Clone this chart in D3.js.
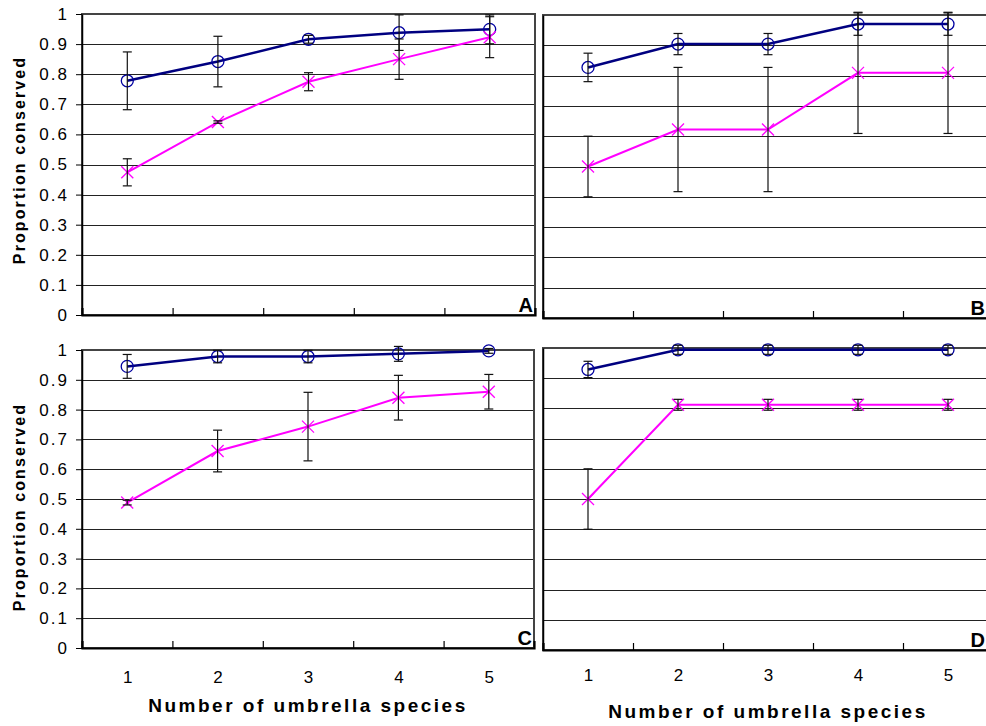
<!DOCTYPE html>
<html>
<head>
  <meta charset="utf-8">
  <script src="https://d3js.org/d3.v7.min.js"></script>
  <style>
    body { margin: 0; background: #fff; }
    svg { display: block; font-family: "Liberation Sans", Arial, sans-serif; }
    .grid line { stroke: #222; stroke-width: 1px; shape-rendering: crispEdges; }
    .frame { fill: none; stroke: #444; stroke-width: 1.5px; shape-rendering: crispEdges; }
    .ylab text { font-size: 17px; letter-spacing: 2px; fill: #000; }
    .xlab text { font-size: 17px; fill: #000; }
    .title { font-size: 19px; font-weight: bold; letter-spacing: 2.5px; }
    .ytitle { font-size: 16px; font-weight: bold; letter-spacing: 2.1px; }
    .panel-letter { font-size: 20px; font-weight: bold; }
    .line-circle { fill: none; stroke: #000080; stroke-width: 2.5px; }
    .line-cross { fill: none; stroke: #ff00ff; stroke-width: 2px; }
    .errbar { stroke: #111; stroke-width: 1.2px; }
  </style>
</head>
<body>
<div id="chart"></div>
<script>
  // x categories and y ticks
  var species = [1, 2, 3, 4, 5];
  var yTicks = [0, 0.1, 0.2, 0.3, 0.4, 0.5, 0.6, 0.7, 0.8, 0.9, 1];
  var panelNames = ["A", "B", "C", "D"];

  // navy circles (mean, +/- error) and magenta crosses, one pair per panel
  var circleA = [0.778, 0.842, 0.916, 0.938, 0.949];
  var circleErrA = [0.096, 0.084, 0.013, 0.059, 0.048];
  var crossA = [0.474, 0.641, 0.775, 0.850, 0.923];
  var crossErrA = [0.045, 0.004, 0.030, 0.067, 0.068];

  var circleB = [0.827, 0.904, 0.904, 0.970, 0.970];
  var circleErrB = [0.047, 0.035, 0.035, 0.037, 0.037];
  var crossB = [0.500, 0.622, 0.622, 0.809, 0.809];
  var crossErrB = [0.100, 0.205, 0.205, 0.200, 0.200];

  var circleC = [0.945, 0.978, 0.978, 0.987, 0.997];
  var circleErrC = [0.040, 0.021, 0.021, 0.025, 0.008];
  var crossC = [0.488, 0.661, 0.743, 0.840, 0.860];
  var crossErrC = [0.008, 0.070, 0.115, 0.075, 0.058];

  var circleD = [0.929, 0.994, 0.994, 0.994, 0.994];
  var circleErrD = [0.027, 0.015, 0.015, 0.015, 0.015];
  var crossD = [0.500, 0.812, 0.812, 0.812, 0.812];
  var crossErrD = [0.100, 0.018, 0.018, 0.018, 0.018];

  var panelData = {
    A: { circle: circleA, circleErr: circleErrA, cross: crossA, crossErr: crossErrA },
    B: { circle: circleB, circleErr: circleErrB, cross: crossB, crossErr: crossErrB },
    C: { circle: circleC, circleErr: circleErrC, cross: crossC, crossErr: crossErrC },
    D: { circle: circleD, circleErr: circleErrD, cross: crossD, crossErr: crossErrD }
  };

  // plot boxes (pixels); right column runs past the page edge like the original
  var boxes = {
    A: { left: 82, right: 535, top: 14, bottom: 315, yLabels: true, xLabels: false, letterX: 533 },
    B: { left: 543, right: 993, top: 15, bottom: 318, yLabels: false, xLabels: false, letterX: 985 },
    C: { left: 82, right: 534, top: 350, bottom: 648, yLabels: true, xLabels: true, pad: 23, letterX: 532 },
    D: { left: 543, right: 993, top: 348, bottom: 650, yLabels: false, xLabels: true, pad: 19, letterX: 985 }
  };

  var svg = d3.select("#chart").append("svg")
      .attr("width", 986)
      .attr("height", 726);

  function drawPanel(name) {
    var b = boxes[name], d = panelData[name];
    var x = d3.scaleLinear().domain([0.5, 5.5]).range([b.left, b.right]);
    var y = d3.scaleLinear().domain([0, 1]).range([b.bottom, b.top]);
    var g = svg.append("g").attr("class", "panel-" + name);

    // horizontal gridlines
    g.append("g").attr("class", "grid")
      .selectAll("line").data(yTicks.slice(1)).join("line")
        .attr("x1", b.left).attr("x2", b.right)
        .attr("y1", function(v) { return Math.round(y(v)) + 0.5; })
        .attr("y2", function(v) { return Math.round(y(v)) + 0.5; });

    g.append("rect").attr("class", "frame")
      .attr("x", b.left).attr("y", b.top)
      .attr("width", b.right - b.left).attr("height", b.bottom - b.top);

    // left axis
    var yAxis = d3.axisLeft(y).tickValues(yTicks)
        .tickFormat(function(v) { return v === 0 || v === 1 ? String(v) : v.toFixed(1); })
        .tickSizeInner(b.yLabels ? 6 : 0).tickSizeOuter(0).tickPadding(7);
    var ya = g.append("g").attr("class", "ylab")
        .attr("transform", "translate(" + b.left + ",0)")
        .call(yAxis);
    ya.select(".domain").attr("stroke", "#000").attr("stroke-width", 1.5);
    if (!b.yLabels) ya.selectAll("text").remove();
    ya.selectAll(".tick line").attr("stroke", "#000");

    // bottom axis: ticks between categories, pointing inward
    var xa = g.append("g")
        .attr("transform", "translate(0," + b.bottom + ")")
        .call(d3.axisBottom(x).tickValues([1.5, 2.5, 3.5, 4.5])
          .tickSize(-7).tickFormat(""));
    xa.select(".domain").attr("stroke", "#000").attr("stroke-width", 2.2);
    xa.selectAll(".tick line").attr("stroke", "#000").attr("stroke-width", 1.2);

    if (b.xLabels) {
      g.append("g").attr("class", "xlab")
        .attr("transform", "translate(0," + b.bottom + ")")
        .call(d3.axisBottom(x).tickValues(species).tickSize(0).tickPadding(b.pad)
          .tickFormat(d3.format("d")))
        .select(".domain").remove();
    }

    var line = d3.line()
        .x(function(v, i) { return x(species[i]); })
        .y(function(v) { return y(v); });

    g.append("path").attr("class", "line-circle").attr("d", line(d.circle));
    g.append("path").attr("class", "line-cross").attr("d", line(d.cross));

    // circle markers
    g.selectAll(".mk-circle").data(d.circle).join("circle")
      .attr("class", "mk-circle")
      .attr("cx", function(v, i) { return x(species[i]); })
      .attr("cy", function(v) { return y(v); })
      .attr("r", 6)
      .attr("fill", "none").attr("stroke", "#0000a0").attr("stroke-width", 1.3);

    // cross markers
    var cr = g.selectAll(".mk-cross").data(d.cross).join("g")
      .attr("class", "mk-cross")
      .attr("transform", function(v, i) { return "translate(" + x(species[i]) + "," + y(v) + ")"; });
    cr.append("line").attr("x1", -6).attr("y1", -6).attr("x2", 6).attr("y2", 6);
    cr.append("line").attr("x1", -6).attr("y1", 6).attr("x2", 6).attr("y2", -6);
    cr.selectAll("line").attr("stroke", "#ff00ff").attr("stroke-width", 1.3);

    // error bars
    function errBars(vals, errs) {
      var eg = g.append("g").attr("class", "errbar");
      vals.forEach(function(v, i) {
        var cx = x(species[i]), hi = y(v + errs[i]), lo = y(v - errs[i]);
        eg.append("line").attr("x1", cx).attr("x2", cx).attr("y1", hi).attr("y2", lo);
        eg.append("line").attr("x1", cx - 4.5).attr("x2", cx + 4.5).attr("y1", hi).attr("y2", hi);
        eg.append("line").attr("x1", cx - 4.5).attr("x2", cx + 4.5).attr("y1", lo).attr("y2", lo);
      });
    }
    errBars(d.circle, d.circleErr);
    errBars(d.cross, d.crossErr);

    g.append("text").attr("class", "panel-letter")
      .attr("x", b.letterX).attr("y", b.bottom - 3)
      .attr("text-anchor", "end")
      .text(name);

    return { x: x, y: y };
  }

  panelNames.forEach(drawPanel);

  // axis titles
  svg.append("text").attr("class", "title")
    .attr("x", 308).attr("y", 712).attr("text-anchor", "middle")
    .text("Number of umbrella species");
  svg.append("text").attr("class", "title")
    .attr("x", 768).attr("y", 718).attr("text-anchor", "middle")
    .text("Number of umbrella species");

  [160, 507].forEach(function(cy) {
    svg.append("text").attr("class", "ytitle")
      .attr("transform", "translate(25," + cy + ") rotate(-90)")
      .attr("text-anchor", "middle")
      .text("Proportion conserved");
  });
</script>
</body>
</html>
